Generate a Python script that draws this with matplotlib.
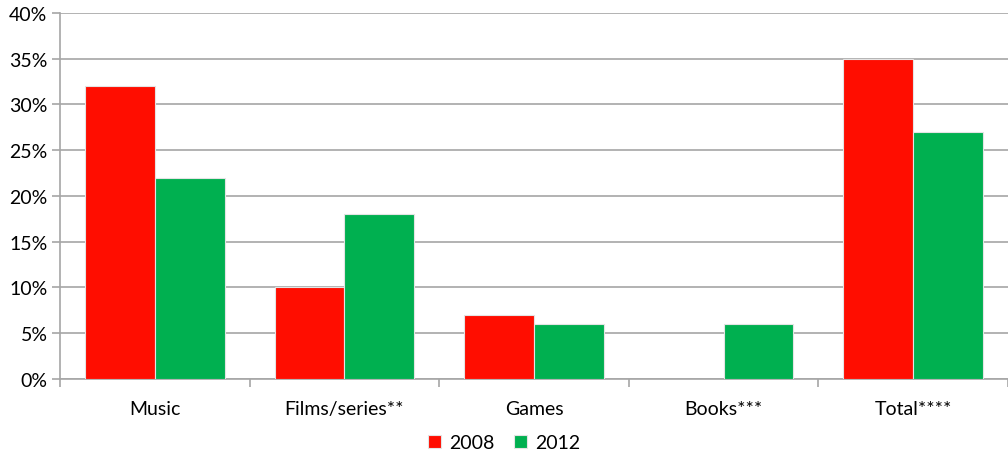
import numpy as np
from matplotlib import pyplot as plt

plt.rcParams.update({"font.family": ["Lato", "DejaVu Sans"], "font.size": 14})

categories = ["Music", "Films/series**", "Games", "Books***", "Total****"]
years = ["2008", "2012"]
values_2008 = [32, 10, 7, np.nan, 35]
values_2012 = [22, 18, 6, 6, 27]
colors = ["#FF0D00", "#00B050"]

fig = plt.figure(figsize=(10.08, 4.56), dpi=100)
ax = fig.add_axes([0.0595, 0.1667, 0.9405, 0.8026])

x = np.arange(len(categories))
w = 0.368
for i, (vals, c, lab) in enumerate(zip([values_2008, values_2012], colors, years)):
    ax.bar(x + (i - 0.5) * w, vals, width=w, color=c, label=lab,
           edgecolor="#E4E4E4", linewidth=0.8, zorder=3)

ax.set_ylim(0, 40)
ax.set_xlim(-0.5, 4.49)
ax.set_yticks(range(0, 41, 5))
ax.set_yticklabels([f"{v}%" for v in range(0, 41, 5)])
ax.yaxis.grid(True, color="#A6A6A6", linewidth=1.2, zorder=0)
ax.set_axisbelow(True)

ax.set_xticks(x)
ax.set_xticklabels(categories)
ax.tick_params(axis="x", length=0, pad=15)
ax.set_xticks(np.arange(-0.5, 5, 1), minor=True)
ax.tick_params(axis="x", which="minor", length=6, color="#A6A6A6", width=1.2)
ax.tick_params(axis="y", length=6, color="#A6A6A6", width=1.2, pad=3)

for s in ["top", "right"]:
    ax.spines[s].set_visible(False)
for s in ["left", "bottom"]:
    ax.spines[s].set_color("#A6A6A6")
    ax.spines[s].set_linewidth(1.2)

fig.legend(loc="lower center", bbox_to_anchor=(0.5, -0.03), ncol=2, frameon=False,
           handlelength=0.7, handleheight=0.7, handletextpad=0.4, columnspacing=1.0)

fig.savefig("out.png", dpi=100)
